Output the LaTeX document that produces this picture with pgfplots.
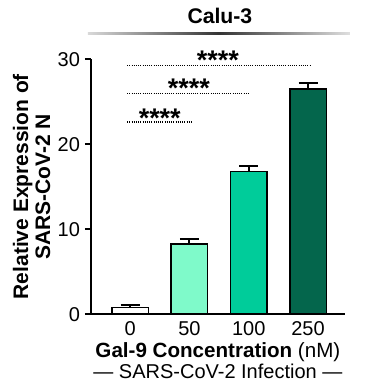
\documentclass[border=0pt]{standalone}
\usepackage{fontspec}
\setmainfont{Liberation Sans}
\usepackage{pgfplots}
\pgfplotsset{compat=1.18}
\definecolor{mintL}{HTML}{7FFACA}
\definecolor{mintM}{HTML}{00CC9A}
\definecolor{mintD}{HTML}{04664C}
\begin{document}
\begin{tikzpicture}
\begin{axis}[
  name=ax,
  scale only axis,
  width=127pt, height=127.6pt,
  xmin=-0.66, xmax=3.62,
  ymin=0, ymax=30,
  axis lines*=left,
  axis line style={line width=1pt},
  ytick={0,10,20,30},
  xtick={0,1,2,3},
  xticklabels={0,50,100,250},
  major x tick style={draw=none},
  tick align=outside,
  major tick length=3pt,
  tick style={line width=1pt,black},
  /pgf/number format/assume math mode=true,
  ticklabel style={font=\fontsize{10}{12}\selectfont},
  yticklabel style={xshift=1pt},
  xticklabel style={yshift=3pt},
  clip=false,
  ybar, bar width=18.3pt, bar shift=0pt,
]
\addplot[fill=white, draw=black, line width=0.75pt,
  error bars/.cd, y dir=plus, y explicit,
  error bar style={line width=1pt,black},
  error mark options={rotate=90, mark size=4.75pt, line width=1pt, black}]
  coordinates {(0,0.82) +- (0,0.27)};
\addplot[fill=mintL, draw=black, line width=0.75pt,
  error bars/.cd, y dir=plus, y explicit,
  error bar style={line width=1pt,black},
  error mark options={rotate=90, mark size=4.75pt, line width=1pt, black}]
  coordinates {(1,8.26) +- (0,0.62)};
\addplot[fill=mintM, draw=black, line width=0.75pt,
  error bars/.cd, y dir=plus, y explicit,
  error bar style={line width=1pt,black},
  error mark options={rotate=90, mark size=4.75pt, line width=1pt, black}]
  coordinates {(2,16.76) +- (0,0.70)};
\addplot[fill=mintD, draw=black, line width=0.75pt,
  error bars/.cd, y dir=plus, y explicit,
  error bar style={line width=1pt,black},
  error mark options={rotate=90, mark size=4.75pt, line width=1pt, black}]
  coordinates {(3,26.47) +- (0,0.67)};
% significance lines
\addplot[sharp plot, black, line width=0.6pt, dash pattern=on 0.5pt off 0.6pt] coordinates {(-0.05,22.6) (1.04,22.6)};
\addplot[sharp plot, black, line width=0.6pt, dash pattern=on 0.5pt off 0.6pt] coordinates {(-0.05,26.0) (2.02,26.0)};
\addplot[sharp plot, black, line width=0.6pt, dash pattern=on 0.5pt off 0.6pt] coordinates {(-0.05,29.3) (3.03,29.3)};
\node[anchor=base, yshift=-7.5pt, inner sep=0pt, font=\bfseries\fontsize{13.5}{13.5}\selectfont] at (axis cs:0.5,23.7) {****};
\node[anchor=base, yshift=-7.5pt, inner sep=0pt, font=\bfseries\fontsize{13.5}{13.5}\selectfont] at (axis cs:0.99,27.2) {****};
\node[anchor=base, yshift=-7.5pt, inner sep=0pt, font=\bfseries\fontsize{13.5}{13.5}\selectfont] at (axis cs:1.48,30.5) {****};
\end{axis}
% title
\node[anchor=base, font=\bfseries\fontsize{10.6}{12}\selectfont] at ([xshift=64.5pt,yshift=145.2pt]ax.south west) {Calu-3};
\shade[left color=gray!30, right color=gray!25, middle color=black!80]
  ([xshift=-1.5pt,yshift=140.1pt]ax.south west) rectangle ([xshift=129.5pt,yshift=141.1pt]ax.south west);
% y label
\node[rotate=90, align=center, font=\bfseries\fontsize{10.5}{11}\selectfont] at ([xshift=-29.7pt]ax.west) {Relative Expression of\\SARS-CoV-2 N};
% x label
\node[anchor=base, font=\fontsize{10.3}{12}\selectfont] at ([yshift=-21.4pt]ax.south) {\textbf{Gal-9 Concentration} (nM)};
\node[anchor=base, font=\fontsize{10}{12}\selectfont] at ([yshift=-32.2pt]ax.south) {--- SARS-CoV-2 Infection ---};
\pgfresetboundingbox
\path ([xshift=-45.5pt,yshift=-38.9pt]ax.south west) rectangle ([xshift=139pt,yshift=157.2pt]ax.south west);
\end{tikzpicture}
\end{document}
